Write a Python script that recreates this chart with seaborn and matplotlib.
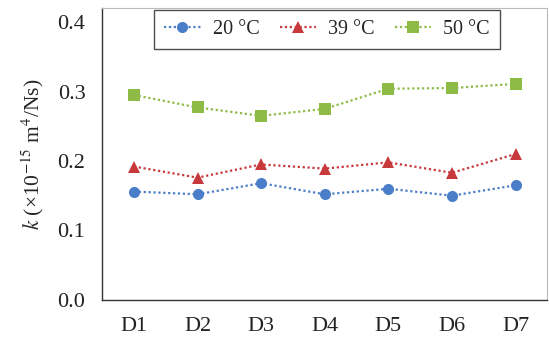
import pandas as pd
import seaborn as sns
import matplotlib
matplotlib.use('Agg')
import matplotlib.pyplot as plt

# datos
samples = ['D1', 'D2', 'D3', 'D4', 'D5', 'D6', 'D7']
temps = ['20 °C', '39 °C', '50 °C']
k_20 = [0.156, 0.152, 0.168, 0.152, 0.160, 0.150, 0.165]
k_39 = [0.192, 0.176, 0.195, 0.189, 0.198, 0.183, 0.210]
k_50 = [0.295, 0.277, 0.265, 0.275, 0.304, 0.305, 0.311]

df = pd.DataFrame({
    'pos': list(range(len(samples))) * 3,
    'k': k_20 + k_39 + k_50,
    'T': [temps[0]] * 7 + [temps[1]] * 7 + [temps[2]] * 7,
})

sns.set_style('white')
plt.rcParams['font.family'] = ['Liberation Serif', 'DejaVu Serif']
plt.rcParams['mathtext.fontset'] = 'stix'

colors = ['#4a7ec8', '#c8393b', '#8dbb45']

fig, ax = plt.subplots(figsize=(5.49, 3.40), dpi=100)
fig.subplots_adjust(left=0.186, right=0.997, top=0.976, bottom=0.118)

sns.lineplot(df, x='pos', y='k', hue='T', style='T',
             markers=['o', '^', 's'], dashes=[(1, 1.2)] * 3,
             palette=colors, markersize=8, markeredgewidth=0,
             linewidth=1.6, ax=ax)

ax.set_xlim(-0.5, 6.5)
ax.set_ylim(0, 0.42)
ax.set_xticks(range(len(samples)))
ax.set_xticklabels(samples)
ax.set_yticks([0.0, 0.1, 0.2, 0.3, 0.4])
ax.set_yticklabels(['0.0', '0.1', '0.2', '0.3', '0.4'])
ax.tick_params(direction='in', length=4, width=0.8, labelsize=16, colors='#222222')
ax.tick_params(axis='y', pad=12)
ax.tick_params(axis='x', pad=12)
ax.set_xlabel('')
ax.set_ylabel(r'$k$ (×10$^{-15}$ m$^4$/Ns)', fontsize=15.5, labelpad=8)

for s in ['left', 'bottom']:
    ax.spines[s].set_color('#333333')
    ax.spines[s].set_linewidth(1.0)
for s in ['top', 'right']:
    ax.spines[s].set_color('#bbbbbb')
    ax.spines[s].set_linewidth(0.8)

leg = ax.legend(loc='upper center', ncol=3, fontsize=14.5, frameon=True,
                fancybox=False, handlelength=1.8, columnspacing=1.0,
                handletextpad=0.6, borderpad=0.5, borderaxespad=0.1,
                bbox_to_anchor=(0.505, 1.0))
leg.get_frame().set_edgecolor('#222222')
leg.get_frame().set_linewidth(1.0)

plt.savefig('out.png', dpi=100)
